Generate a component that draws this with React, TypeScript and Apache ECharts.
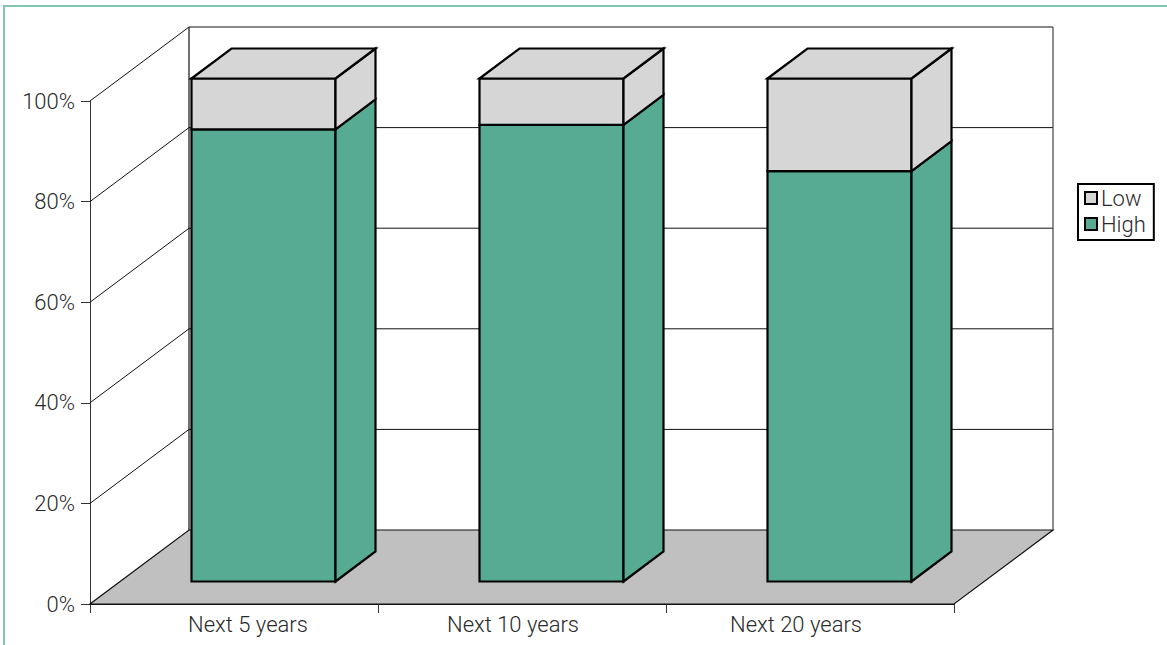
import React, { useEffect, useRef } from "react";
import * as echarts from "echarts";

const categories = ["Next 5 years", "Next 10 years", "Next 20 years"];
const highShare = [89.9, 90.8, 81.6];
const lowShare = [10.1, 9.2, 18.4];
const percentTicks = [0, 20, 40, 60, 80, 100];

const FONT = "Roboto";
const TEXT = "#2a2a2a";
const GREEN = "#57ab93";
const GREY = "#d6d6d6";
const FLOOR = "#c0c0c0";
const FRAME = "#84c5b0";

// Oblique projection of the box: the wall sits this far behind the axis plane.
const WALL_DX = 99;
const WALL_DY = -74;
// The bars occupy the middle slice of the depth.
const BAR_NEAR_DX = 29.5;
const BAR_NEAR_DY = -22.5;
const BAR_DX = 40;
const BAR_DY = -30;

const pt = (p: number[], dx = 0, dy = 0) => [p[0] + dx, p[1] + dy];

const poly = (points: number[][], fill: string, stroke: string, lineWidth: number) => ({
  type: "polygon",
  shape: { points },
  style: { fill, stroke, lineWidth, lineJoin: "miter" },
});

const seg = (a: number[], b: number[], lineWidth = 1, stroke = "#111111") => ({
  type: "line",
  shape: { x1: a[0], y1: a[1], x2: b[0], y2: b[1] },
  style: { stroke, lineWidth, fill: "none" },
});

// Back wall, side wall, floor and their grid lines.
function renderWalls(_params: any, api: any) {
  const half = api.size([1, 0])[0] / 2;
  const x0 = api.coord([0, 0])[0] - half;
  const x1 = api.coord([categories.length - 1, 0])[0] + half;
  const y = (v: number) => api.coord([0, v])[1];
  const children: any[] = [];
  children.push(
    poly(
      [
        [x0, y(0)],
        [x1, y(0)],
        pt([x1, y(0)], WALL_DX, WALL_DY),
        pt([x0, y(0)], WALL_DX, WALL_DY),
      ],
      FLOOR,
      "#111111",
      1.2,
    ),
  );
  percentTicks.slice(1).forEach((v) => {
    const front = [x0, y(v)];
    const back = pt(front, WALL_DX, WALL_DY);
    children.push(seg(front, back));
    children.push(seg(back, [x1 + WALL_DX, back[1]], v === 100 ? 1.2 : 1));
  });
  const bottom = pt([x0, y(0)], WALL_DX, WALL_DY);
  const top = pt([x0, y(100)], WALL_DX, WALL_DY);
  children.push(seg(bottom, top, 1.2));
  children.push(seg([x1 + WALL_DX, bottom[1]], [x1 + WALL_DX, top[1]], 1.2, "#444444"));
  return { type: "group", children };
}

// One stacked box segment; only the uppermost segment shows its lid.
function makeBarRenderer(fill: string, withLid: boolean) {
  return (_params: any, api: any) => {
    const idx = api.value(0);
    const band = api.size([1, 0])[0];
    const w = band * 0.5;
    const lo = api.coord([idx, api.value(1)]);
    const hi = api.coord([idx, api.value(2)]);
    const left = lo[0] - w / 2 + BAR_NEAR_DX;
    const right = left + w;
    const yLo = lo[1] + BAR_NEAR_DY;
    const yHi = hi[1] + BAR_NEAR_DY;
    const children: any[] = [
      poly(
        [
          [left, yLo],
          [right, yLo],
          [right, yHi],
          [left, yHi],
        ],
        fill,
        "#000000",
        2.2,
      ),
      poly(
        [
          [right, yLo],
          [right + BAR_DX, yLo + BAR_DY],
          [right + BAR_DX, yHi + BAR_DY],
          [right, yHi],
        ],
        fill,
        "#000000",
        2.2,
      ),
    ];
    if (withLid) {
      children.push(
        poly(
          [
            [left, yHi],
            [right, yHi],
            [right + BAR_DX, yHi + BAR_DY],
            [left + BAR_DX, yHi + BAR_DY],
          ],
          fill,
          "#000000",
          2.2,
        ),
      );
    }
    return { type: "group", children };
  };
}

// The category captions sit off the band centres, so each gets its own shift.
const captionStyles = ["a", "b", "c"];

export default function App() {
  const ref = useRef<HTMLDivElement>(null);

  useEffect(() => {
    if (!ref.current) return;
    const chart = echarts.init(ref.current, undefined, { renderer: "svg" });
    chart.setOption({
      animation: false,
      backgroundColor: "#ffffff",
      textStyle: { fontFamily: FONT },
      grid: { left: 90, right: 213, top: 101, bottom: 41, containLabel: false },
      legend: {
        data: ["Low", "High"],
        orient: "vertical",
        left: 1078,
        top: 184,
        padding: [3, 8, 5, 6],
        itemWidth: 12,
        itemHeight: 12,
        itemGap: 4,
        icon: "rect",
        borderColor: "#000000",
        borderWidth: 2,
        backgroundColor: "#ffffff",
        selectedMode: false,
        itemStyle: { borderColor: "#000000", borderWidth: 2 },
        textStyle: { fontFamily: FONT, fontSize: 22, fontWeight: 300, color: TEXT, padding: [0, 0, 0, -1] },
      },
      xAxis: {
        type: "category",
        data: categories,
        axisLine: { lineStyle: { color: "#111111", width: 1 } },
        axisTick: { show: true, length: 9, lineStyle: { color: "#333333", width: 1 } },
        axisLabel: {
          margin: 9,
          interval: 0,
          formatter: (value: string) => `{${captionStyles[categories.indexOf(value)]}|${value}}`,
          rich: {
            a: { fontFamily: FONT, fontSize: 22, fontWeight: 300, color: TEXT, padding: [0, 0, 0, 28] },
            b: { fontFamily: FONT, fontSize: 22, fontWeight: 300, color: TEXT, padding: [0, 18, 0, 0] },
            c: { fontFamily: FONT, fontSize: 22, fontWeight: 300, color: TEXT, padding: [0, 28, 0, 0] },
          },
        },
      },
      yAxis: {
        type: "value",
        min: 0,
        max: 100,
        interval: 20,
        splitLine: { show: false },
        axisLine: { show: true, lineStyle: { color: "#333333", width: 1 } },
        axisTick: { show: true, length: 9, lineStyle: { color: "#333333", width: 1 } },
        axisLabel: {
          margin: 15,
          fontFamily: FONT,
          fontSize: 22,
          fontWeight: 300,
          color: TEXT,
          formatter: "{value}%",
        },
      },
      series: [
        {
          name: "walls",
          type: "custom",
          silent: true,
          renderItem: renderWalls,
          data: [[0, 0, 100]],
          encode: { x: 0, y: [1, 2] },
          z: 1,
        },
        {
          name: "High",
          type: "custom",
          itemStyle: { color: GREEN },
          renderItem: makeBarRenderer(GREEN, false),
          data: highShare.map((v, i) => [i, 0, v]),
          encode: { x: 0, y: [1, 2] },
          z: 2,
        },
        {
          name: "Low",
          type: "custom",
          itemStyle: { color: GREY },
          renderItem: makeBarRenderer(GREY, true),
          data: lowShare.map((v, i) => [i, highShare[i], highShare[i] + v]),
          encode: { x: 0, y: [1, 2] },
          z: 3,
        },
      ],
      graphic: [
        {
          type: "polyline",
          shape: { points: [[4, 645], [4, 6], [1167, 6]] },
          style: { stroke: FRAME, lineWidth: 2, fill: "none" },
          silent: true,
        },
      ],
    });
    return () => chart.dispose();
  }, []);

  return <div ref={ref} style={{ position: "absolute", left: 0, top: 0, width: 1167, height: 645 }} />;
}
